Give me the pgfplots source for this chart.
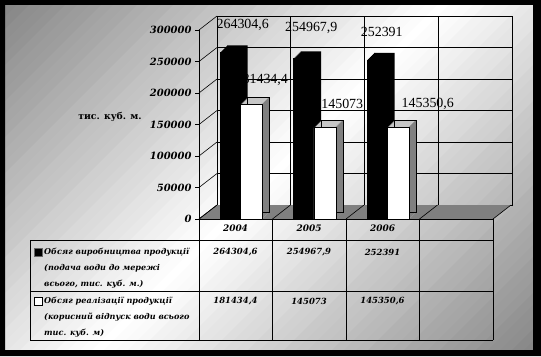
\documentclass[border=0pt]{standalone}
\usepackage{pgfplots}
\pgfplotsset{compat=1.18}
\usepackage{pgfplotstable}
\usepackage{fontspec}
\setmainfont{DejaVu Serif}
\newfontfamily\timesf{Liberation Serif}
\definecolor{bgA}{RGB}{128,128,128}
\pgfplotstableread{
x b w lb lw dxb dyb dxw dyw
0 264304.6 181434.4 264304,6 181434,4 7 28 26 25
1 254967.9 145073 254967,9 145073 2 30 33 24
2 252391 145350.6 252391 145350,6 -1 28 45 23
}\datatable
\begin{document}
\begin{tikzpicture}[x=1bp,y=1bp]
\path[use as bounding box] (0,0) rectangle (541,356);
\foreach \i in {0,...,72} {
  \pgfmathtruncatemacro\p{48*abs(1-2*(\i+0.5)/73)}
  \pgfmathsetmacro\s{12*\i}
  \begin{scope}
  \clip (5,6) rectangle (533,351);
  \fill[white!\the\numexpr100-\p\relax!black] ({5+\s},351) -- ({5+\s+12.6},351) -- ({5+\s+12.6-345},6) -- ({5+\s-345},6) -- cycle;
  \end{scope}
}
\fill[black, even odd rule] (0,0) rectangle (541,356) (5,6) rectangle (533,351);
% back wall
\begin{axis}[at={(217bp,151bp)}, anchor=south west, scale only axis, width=295bp, height=189bp,
 xmin=-0.5,xmax=3.5,ymin=0,ymax=300000, xtick={-0.5,0.5,1.5,2.5,3.5}, ytick={0,50000,100000,150000,200000,250000,300000},
 scaled y ticks=false, scaled x ticks=false,
 xticklabels={}, yticklabels={}, grid=major, major grid style={black, line width=0.6bp}, major tick length=0pt,
 axis line style={black, line width=0.6bp}]
 \addplot[draw=none] coordinates {(0,0)};
\end{axis}
% front
\begin{axis}[at={(199bp,137bp)}, anchor=south west, scale only axis, width=294bp, height=189bp,
 xmin=-0.5,xmax=3.5,ymin=0,ymax=300000, clip=false,
 axis x line=none, axis y line*=left, y axis line style={black,line width=0.6bp},
 ytick={0,50000,100000,150000,200000,250000,300000}, scaled y ticks=false,
 /pgf/number format/assume math mode=true,
 /pgf/number format/fixed,
 /pgf/number format/1000 sep={},
 yticklabel style={font=\fontsize{10}{10}\selectfont\bfseries\itshape},
 tick align=outside, major tick length=4bp, tick style={black, line width=0.6bp}]
 \fill[bgA] (axis cs:-0.5,0) -- (axis cs:3.5,0) -- ([shift={(18bp,14bp)}]axis cs:3.5,0) -- ([shift={(18bp,14bp)}]axis cs:-0.5,0) -- cycle;
 \pgfplotsinvokeforeach{-0.5,0.5,1.5,2.5,3.5}{\draw[line width=0.6bp] (axis cs:#1,0) -- ++(18bp,14bp);}
 \pgfplotsinvokeforeach{0,50000,100000,150000,200000,250000,300000}{\draw[line width=0.6bp] (axis cs:-0.5,#1) -- ++(18bp,14bp);}
 \draw[line width=0.6bp] (axis cs:-0.5,0) -- (axis cs:3.5,0);
 % labels
 \addplot[draw=none, mark=none, nodes near coords, point meta=explicit symbolic,
   visualization depends on={\thisrow{dxb} \as \dx}, visualization depends on={\thisrow{dyb} \as \dy},
   every node near coord/.style={anchor=center, xshift=\dx bp, yshift=\dy bp, font=\timesf\fontsize{14}{14}\selectfont, inner sep=0pt}]
   table[x=x, y=b, meta=lb]{\datatable};
 \addplot[draw=none, mark=none, nodes near coords, point meta=explicit symbolic,
   visualization depends on={\thisrow{dxw} \as \dx}, visualization depends on={\thisrow{dyw} \as \dy},
   every node near coord/.style={anchor=center, xshift=\dx bp, yshift=\dy bp, font=\timesf\fontsize{14}{14}\selectfont, inner sep=0pt}]
   table[x=x, y=w, meta=lw]{\datatable};
 % black bars
 \pgfplotsinvokeforeach{7,6,5,4,3,2,1}{
  \addplot[ybar, bar width=20.5bp, bar shift=-5.5bp, fill=black, draw=none, xshift=#1bp, yshift=#1bp] table[x=x,y=b]{\datatable};
 }
 \addplot[ybar, bar width=20.5bp, bar shift=-5.5bp, fill=black, draw=black] table[x=x,y=b]{\datatable};
 % white bars
 \pgfplotsinvokeforeach{7,6,5,4,3,2,1}{
  \addplot[ybar, bar width=22bp, bar shift=15.5bp, fill=black!22, draw=none, xshift=#1bp, yshift=#1bp] table[x=x,y=w]{\datatable};
 }
 \pgfplotsinvokeforeach{1,2,3,4,5,6,7}{
  \addplot[ybar, bar width=1.1bp, bar shift=26bp, fill=bgA, draw=none, xshift=#1bp, yshift=#1bp] table[x=x,y=w]{\datatable};
 }
 \addplot[ybar, bar width=22bp, bar shift=15.5bp, fill=none, draw=black, line width=0.5bp, xshift=7bp, yshift=7bp] table[x=x,y=w]{\datatable};
 \addplot[ybar, bar width=22bp, bar shift=15.5bp, fill=white, draw=black, line width=0.5bp] table[x=x,y=w]{\datatable};
\end{axis}
% y label
\node[font=\fontsize{9.3}{10}\selectfont\bfseries] at (110,239) {тис. куб. м.};
% table
\begin{scope}[line width=0.6bp]
\draw (30,116) -- (493,116);
\draw (30,65) -- (493,65);
\draw (30,16) -- (493,16);
\draw (30,116) -- (30,16);
\foreach \xx in {199,272,346,419,493} {\draw (\xx,137) -- (\xx,16);}
\end{scope}
\begin{scope}[font=\fontsize{9}{9}\selectfont\bfseries\itshape]
\node at (235.5,128) {2004};
\node at (309,128) {2005};
\node at (382.5,128) {2006};
\end{scope}
\begin{scope}[font=\fontsize{8.5}{9}\selectfont\bfseries\itshape]
\node at (235.5,104) {264304,6};
\node at (309,104) {254967,9};
\node at (382.5,104) {252391};
\node at (235.5,55) {181434,4};
\node at (309,55) {145073};
\node at (382.5,55) {145350,6};
\end{scope}
\begin{scope}[font=\fontsize{8.1}{9}\selectfont\bfseries\itshape]
\fill[black, draw=black!60] (34,100) rectangle (42,108);
\draw[black, fill=white] (34,51) rectangle (42,59);
\node[anchor=west, inner sep=0pt] at (44,104) {Обсяг виробництва продукції};
\node[anchor=west, inner sep=0pt] at (44,88) {(подача води до мережі};
\node[anchor=west, inner sep=0pt] at (44,72) {всього, тис. куб. м.)};
\node[anchor=west, inner sep=0pt] at (44,55) {Обсяг реалізації продукції};
\node[anchor=west, inner sep=0pt] at (44,39) {(корисний відпуск води всього};
\node[anchor=west, inner sep=0pt] at (44,23) {тис. куб. м)};
\end{scope}
\end{tikzpicture}
\end{document}
